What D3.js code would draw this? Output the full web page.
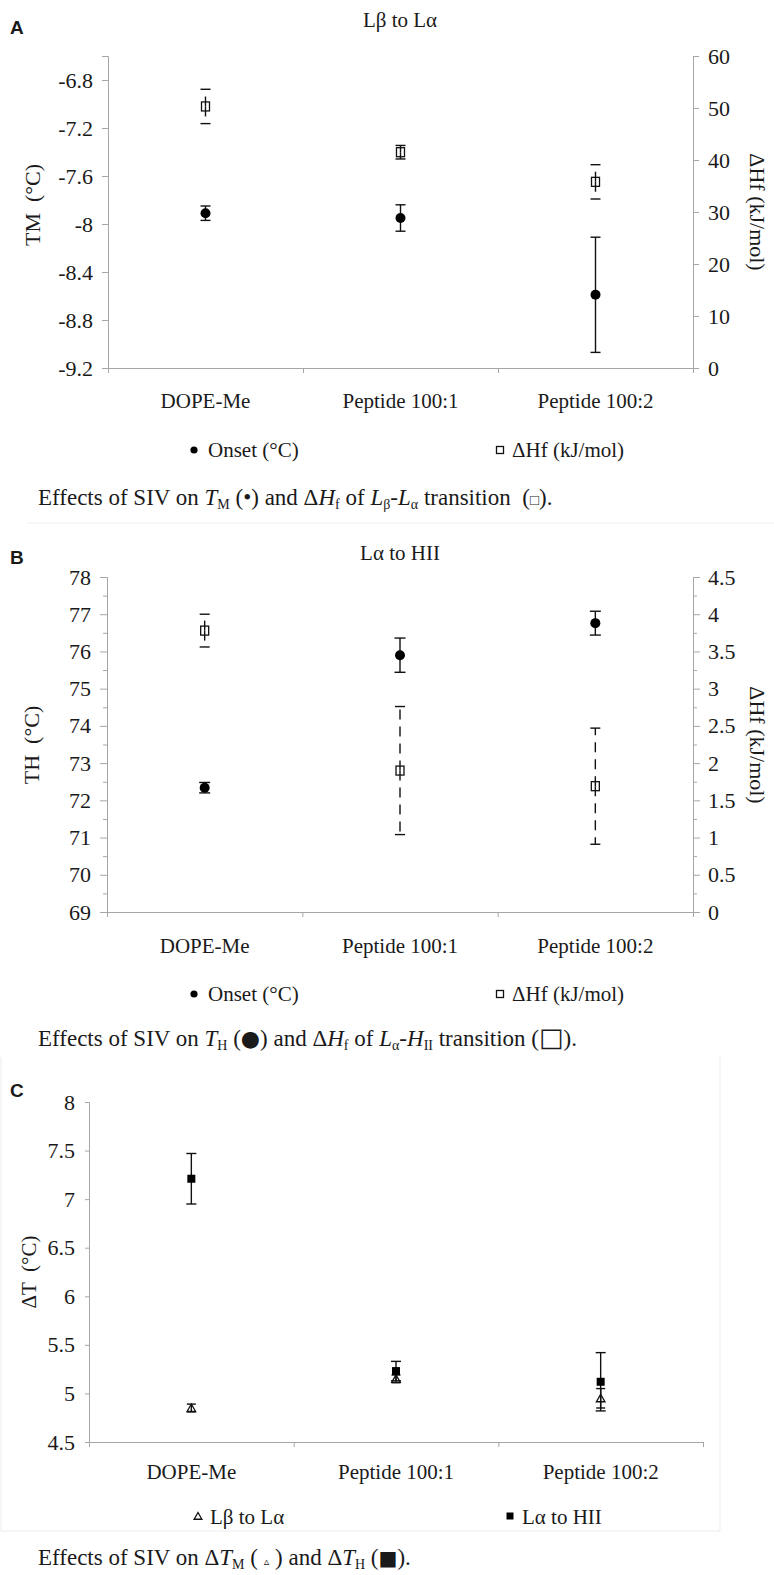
<!DOCTYPE html>
<html><head><meta charset="utf-8">
<script src="https://cdn.jsdelivr.net/npm/d3@7"></script>
<style>
body{margin:0;background:#fff}
svg{display:block}
text{font-family:"Liberation Serif","Times New Roman",serif;fill:#1a1a1a;white-space:pre}
</style>
</head><body>
<svg id="c" width="774" height="1575"></svg>
<script>
// ---------- DATA ----------
const categories = ["DOPE-Me", "Peptide 100:1", "Peptide 100:2"];

// Panel A : Lβ to Lα
const aOnset = [-7.91, -7.95, -8.59];
const aOnsetErr = [0.06, 0.11, 0.48];
const aHf = [50.3, 41.5, 35.8];
const aHfErr = [3.3, 1.3, 3.3];
const aLeftTicks = [-9.2, -8.8, -8.4, -8, -7.6, -7.2, -6.8];
const aRightTicks = [0, 10, 20, 30, 40, 50, 60];

// Panel B : Lα to HII
const bOnset = [72.34, 75.9, 76.76];
const bOnsetErr = [0.14, 0.46, 0.32];
const bHf = [3.78, 1.9, 1.69];
const bHfErr = [0.22, 0.86, 0.78];
const bLeftTicks = [69, 70, 71, 72, 73, 74, 75, 76, 77, 78];
const bLeftMinor = [69.5, 70.5, 71.5, 72.5, 73.5, 74.5, 75.5, 76.5, 77.5];
const bRightTicks = [0, 0.5, 1, 1.5, 2, 2.5, 3, 3.5, 4, 4.5];
const bRightMinor = [0.25, 0.75, 1.25, 1.75, 2.25, 2.75, 3.25, 3.75, 4.25];

// Panel C : ΔT
const cLbLa = [4.85, 5.15, 4.95];
const cLbLaErr = [0.04, 0.04, 0.10];
const cLaHII = [7.21, 5.23, 5.12];
const cLaHIIErr = [0.26, 0.10, 0.30];
const cTicks = [4.5, 5, 5.5, 6, 6.5, 7, 7.5, 8];

// ---------- HELPERS ----------
const svg = d3.select("#c");
const AX = "#a6a6a6";
const SERIF = '"Liberation Serif","Times New Roman",serif';
const TICK_FS = 22, CAT_FS = 21, LEG_FS = 21, CAP_FS = 23;

function styleAxis(g, fs) {
  g.attr("font-family", null);
  g.select(".domain").attr("stroke", AX);
  g.selectAll(".tick line").attr("stroke", AX);
  g.selectAll("text").attr("font-size", fs || TICK_FS).style("font-family", SERIF).attr("fill", "#1a1a1a");
}

function xAxis(x, y0, padding) {
  const lin = d3.scaleLinear().domain([0, 3]).range(x.range());
  const g1 = svg.append("g").attr("transform", `translate(0,${y0})`)
    .call(d3.axisBottom(lin).tickValues([1, 2, 3]).tickSize(5).tickFormat(""));
  styleAxis(g1);
  const g2 = svg.append("g").attr("transform", `translate(0,${y0})`)
    .call(d3.axisBottom(x).tickSize(0).tickPadding(padding));
  g2.select(".domain").remove();
  styleAxis(g2, CAT_FS);
}

function errBar(g, cx, y, v, e, cap, dashed) {
  const yc = y(v), y1 = y(v + e), y2 = y(v - e);
  if (dashed) {
    [y1, y2].forEach(ye => g.append("line").attr("x1", cx).attr("x2", cx).attr("y1", yc).attr("y2", ye)
      .attr("stroke", "#111").attr("stroke-width", 1.4).attr("stroke-dasharray", "10,7"));
  } else {
    g.append("line").attr("x1", cx).attr("x2", cx).attr("y1", y1).attr("y2", y2)
      .attr("stroke", "#111").attr("stroke-width", 1.4);
  }
  [y1, y2].forEach(yy => g.append("line").attr("x1", cx - cap / 2).attr("x2", cx + cap / 2)
    .attr("y1", yy).attr("y2", yy).attr("stroke", "#111").attr("stroke-width", 1.4));
}

function circleMark(g, cx, cy, r) {
  g.append("circle").attr("cx", cx).attr("cy", cy).attr("r", r).attr("fill", "#000");
}
function openSquare(g, cx, cy, w, h) {
  g.append("rect").attr("x", cx - w / 2).attr("y", cy - h / 2).attr("width", w).attr("height", h)
    .attr("fill", "none").attr("stroke", "#111").attr("stroke-width", 1.3);
}
function filledSquare(g, cx, cy, s) {
  g.append("rect").attr("x", cx - s / 2).attr("y", cy - s / 2).attr("width", s).attr("height", s)
    .attr("fill", "#000");
}
function openTriangle(g, cx, cy, size) {
  g.append("path").attr("d", d3.symbol(d3.symbolTriangle, size)())
    .attr("transform", `translate(${cx},${cy + 1})`)
    .attr("fill", "none").attr("stroke", "#111").attr("stroke-width", 1.3);
}

function label(x, y, txt, opts) {
  opts = opts || {};
  const t = svg.append("text").attr("x", x).attr("y", y).text(txt)
    .attr("font-size", opts.fs || LEG_FS).attr("text-anchor", opts.anchor || "start");
  if (opts.rotate) t.attr("transform", `rotate(${opts.rotate},${x},${y})`);
  if (opts.bold) t.attr("font-weight", "bold").style("font-family", "'Liberation Sans', Arial, sans-serif");
  return t;
}

function caption(x, y, parts, fs) {
  const t = svg.append("text").attr("x", x).attr("y", y).attr("font-size", fs);
  let shift = 0;
  parts.forEach(p => {
    if (typeof p === "string") p = { t: p };
    const ts = t.append("tspan").text(p.t);
    const target = p.sub ? 4 : 0;
    if (target !== shift) { ts.attr("dy", target - shift); shift = target; }
    if (p.sub) ts.attr("font-size", Math.round(fs * 0.6));
    if (p.it) ts.attr("font-style", "italic");
    if (p.fs) ts.attr("font-size", p.fs);
    if (p.font) ts.style("font-family", p.font);
  });
  return t;
}

// ---------- PANEL A ----------
(function () {
  const L = 108, R = 693, T = 56, B = 368;
  const x = d3.scaleBand().domain(categories).range([L, R]);
  const yL = d3.scaleLinear().domain([-9.2, -6.6]).range([B, T]);
  const yR = d3.scaleLinear().domain([0, 60]).range([B, T]);

  const gl = svg.append("g").attr("transform", `translate(${L},0)`)
    .call(d3.axisLeft(yL).tickValues(aLeftTicks).tickSize(6).tickPadding(9)
      .tickFormat(d => String(d)));
  styleAxis(gl);
  const gr = svg.append("g").attr("transform", `translate(${R},0)`)
    .call(d3.axisRight(yR).tickValues(aRightTicks).tickSize(6).tickPadding(9));
  styleAxis(gr);
  xAxis(x, B, 25);

  const g = svg.append("g");
  categories.forEach((c, i) => {
    const cx = x(c) + x.bandwidth() / 2;
    errBar(g, cx, yR, aHf[i], aHfErr[i], 10, true);
    openSquare(g, cx, yR(aHf[i]), 8, 9);
    errBar(g, cx, yL, aOnset[i], aOnsetErr[i], 10, false);
    circleMark(g, cx, yL(aOnset[i]), 5);
  });

  label(400, 27, "Lβ to Lα", { anchor: "middle", fs: 21 });
  label(10, 34, "A", { bold: true, fs: 19 });
  label(40, 205, "TM  (°C)", { anchor: "middle", rotate: -90, fs: 22 });
  label(750, 212, "ΔHf (kJ/mol)", { anchor: "middle", rotate: 90, fs: 22 });

  circleMark(svg, 194, 450, 3.6);
  label(208, 457, "Onset (°C)");
  openSquare(svg, 500, 450, 7, 7);
  label(512, 457, "ΔHf (kJ/mol)");

  caption(38, 505, ["Effects of SIV on ", { t: "T", it: true }, { t: "M", sub: true },
    " (", { t: "•" }, ") and Δ", { t: "H", it: true }, { t: "f", sub: true }, " of ",
    { t: "L", it: true }, { t: "β", sub: true }, "-", { t: "L", it: true }, { t: "α", sub: true },
    " transition  (", { t: "□", fs: 15 }, ")."], CAP_FS);
})();

svg.append("line").attr("x1", 27).attr("x2", 774).attr("y1", 523).attr("y2", 523)
  .attr("stroke", "#efefef").attr("stroke-width", 1);

// ---------- PANEL B ----------
(function () {
  const L = 107, R = 693, T = 577, B = 912;
  const x = d3.scaleBand().domain(categories).range([L, R]);
  const yL = d3.scaleLinear().domain([69, 78]).range([B, T]);
  const yR = d3.scaleLinear().domain([0, 4.5]).range([B, T]);

  const glm = svg.append("g").attr("transform", `translate(${L},0)`)
    .call(d3.axisLeft(yL).tickValues(bLeftMinor).tickSize(4).tickFormat(""));
  styleAxis(glm);
  const gl = svg.append("g").attr("transform", `translate(${L},0)`)
    .call(d3.axisLeft(yL).tickValues(bLeftTicks).tickSize(7).tickPadding(9));
  styleAxis(gl);
  const grm = svg.append("g").attr("transform", `translate(${R},0)`)
    .call(d3.axisRight(yR).tickValues(bRightMinor).tickSize(4).tickFormat(""));
  styleAxis(grm);
  const gr = svg.append("g").attr("transform", `translate(${R},0)`)
    .call(d3.axisRight(yR).tickValues(bRightTicks).tickSize(7).tickPadding(8)
      .tickFormat(d => String(d)));
  styleAxis(gr);
  xAxis(x, B, 26);

  const g = svg.append("g");
  categories.forEach((c, i) => {
    const cx = x(c) + x.bandwidth() / 2;
    errBar(g, cx, yR, bHf[i], bHfErr[i], 10, true);
    openSquare(g, cx, yR(bHf[i]), 8, 9);
    errBar(g, cx, yL, bOnset[i], bOnsetErr[i], 11, false);
    circleMark(g, cx, yL(bOnset[i]), 5);
  });

  label(400, 560, "Lα to HII", { anchor: "middle", fs: 21 });
  label(10, 564, "B", { bold: true, fs: 19 });
  label(39, 745, "TH  (°C)", { anchor: "middle", rotate: -90, fs: 22 });
  label(750, 745, "ΔHf (kJ/mol)", { anchor: "middle", rotate: 90, fs: 22 });

  circleMark(svg, 194, 994, 3.6);
  label(208, 1001, "Onset (°C)");
  openSquare(svg, 500, 994, 7, 7);
  label(512, 1001, "ΔHf (kJ/mol)");

  caption(38, 1046, ["Effects of SIV on ", { t: "T", it: true }, { t: "H", sub: true },
    " (", { t: "●", fs: 22, font: "DejaVu Sans" }, ") and Δ", { t: "H", it: true }, { t: "f", sub: true }, " of ",
    { t: "L", it: true }, { t: "α", sub: true }, "-", { t: "H", it: true }, { t: "II", sub: true },
    " transition (", { t: "□", fs: 26, font: "DejaVu Sans" }, ")."], CAP_FS);
})();

// ---------- PANEL C ----------
(function () {
  const L = 89, R = 703, T = 1102, B = 1442;
  svg.append("path").attr("d", `M1,1057 V1531 H720 V1057`).attr("fill", "none")
    .attr("stroke", "#ececec").attr("stroke-width", 1);

  const x = d3.scaleBand().domain(categories).range([L, R]);
  const y = d3.scaleLinear().domain([4.5, 8]).range([B, T]);

  const gl = svg.append("g").attr("transform", `translate(${L},0)`)
    .call(d3.axisLeft(y).tickValues(cTicks).tickSize(4).tickPadding(10).tickFormat(d => String(d)));
  styleAxis(gl);
  xAxis(x, B, 22);

  const g = svg.append("g");
  categories.forEach((c, i) => {
    const cx = x(c) + x.bandwidth() / 2;
    errBar(g, cx, y, cLbLa[i], cLbLaErr[i], 9, false);
    openTriangle(g, cx, y(cLbLa[i]), 32);
    errBar(g, cx, y, cLaHII[i], cLaHIIErr[i], 10, false);
    filledSquare(g, cx, y(cLaHII[i]), 8);
  });

  label(10, 1097, "C", { bold: true, fs: 19 });
  label(36, 1272, "ΔT  (°C)", { anchor: "middle", rotate: -90, fs: 21 });

  openTriangle(svg, 198, 1516, 26);
  label(210, 1524, "Lβ to Lα");
  filledSquare(svg, 510, 1516, 7);
  label(522, 1524, "Lα to HII");

  caption(38, 1565, ["Effects of SIV on Δ", { t: "T", it: true }, { t: "M", sub: true },
    " ( ", { t: "▵", fs: 11, font: "DejaVu Sans" }, " ) and Δ", { t: "T", it: true }, { t: "H", sub: true },
    " (", { t: "■", fs: 20, font: "DejaVu Sans" }, ")."], CAP_FS);
})();
</script>
</body></html>
